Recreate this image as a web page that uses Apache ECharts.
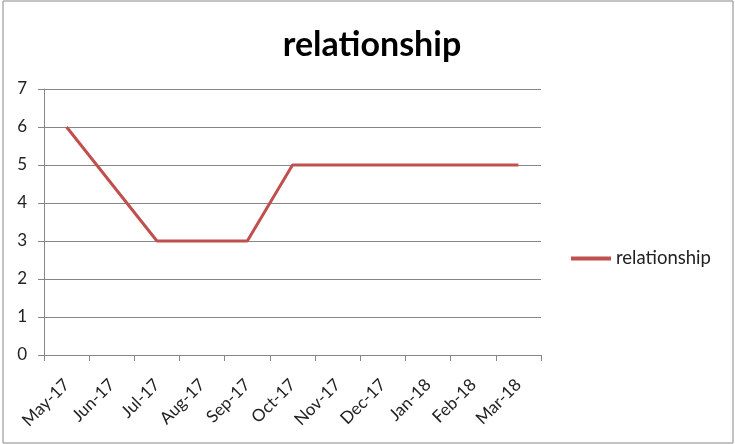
<!DOCTYPE html>
<html>
<head>
<meta charset="utf-8">
<script src="https://cdn.jsdelivr.net/npm/echarts@6/dist/echarts.min.js"></script>
<style>
  html, body { margin: 0; padding: 0; background: #fff; }
  #chart { width: 735px; height: 444px; }
</style>
</head>
<body>
<div id="chart"></div>
<script>
const months = ['May-17', 'Jun-17', 'Jul-17', 'Aug-17', 'Sep-17', 'Oct-17', 'Nov-17', 'Dec-17', 'Jan-18', 'Feb-18', 'Mar-18']
const relationship = [6, 4.5, 3, 3, 3, 5, 5, 5, 5, 5, 5]
const seriesName = 'relationship'

const chart = echarts.init(document.getElementById('chart'))
const font = 'Lato, Open Sans, sans-serif'

chart.setOption({
  animation: false,
  title: {
    text: 'relationship',
    left: 367,
    textAlign: 'center',
    top: 23,
    textStyle: { fontSize: 34, fontWeight: 'bold', color: '#000', fontFamily: font }
  },
  legend: {
    left: 566,
    top: 244,
    itemWidth: 40,
    itemHeight: 4,
    icon: 'rect',
    itemGap: 5,
    textStyle: { fontSize: 18.5, color: '#222', fontFamily: font },
    data: [seriesName]
  },
  grid: { left: 44, top: 89, right: 194, bottom: 89 },
  xAxis: {
    type: 'category',
    data: months,
    boundaryGap: true,
    axisLine: { lineStyle: { color: '#868686' } },
    axisTick: { show: true, length: 6, lineStyle: { color: '#868686' } },
    axisLabel: { rotate: 45, margin: 27, fontSize: 17, color: '#222', fontFamily: font }
  },
  yAxis: {
    type: 'value',
    min: 0,
    max: 7,
    interval: 1,
    axisLine: { show: true, lineStyle: { color: '#868686' } },
    axisTick: { show: true, length: 6, lineStyle: { color: '#868686' } },
    axisLabel: { margin: 17, fontSize: 17, color: '#222', fontFamily: font },
    splitLine: { lineStyle: { color: '#868686' } }
  },
  graphic: [{
    type: 'rect',
    shape: { x: 3, y: 1, width: 730, height: 442 },
    style: { fill: 'none', stroke: '#888', lineWidth: 1 },
    silent: true
  }],
  series: [{
    name: seriesName,
    type: 'line',
    data: relationship,
    symbol: 'none',
    lineStyle: { color: '#C0504D', width: 3 },
    itemStyle: { color: '#C0504D' }
  }]
})
</script>
</body>
</html>
